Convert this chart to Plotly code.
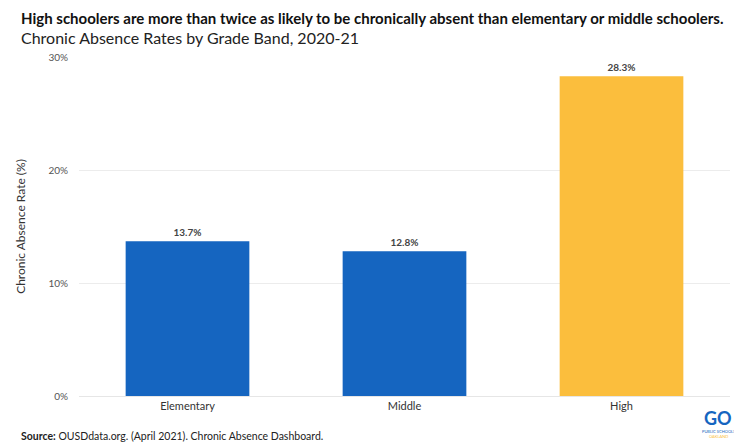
import plotly.graph_objects as go

categories = ["Elementary", "Middle", "High"]
rates = [13.7, 12.8, 28.3]
labels = ["<b>13.7%</b>", "<b>12.8%</b>", "<b>28.3%</b>"]
colors = ["#1565C0", "#1565C0", "#FBBE3D"]
tick_vals = [0, 10, 20, 30]
tick_text = ["0%", "10%", "20%", "30%"]

FONT = "Lato"
# page body has an 8px margin; compensate
OFF = 8
W, H = 742 - OFF, 446 - OFF
L, T, R = 76 - OFF, 57 - OFF, 12
B = H - (396 - OFF)
PW, PH = W - L - R, H - T - B


def px(x):
    return (x - OFF - L) / PW


def py(y):
    return 1 - (y - OFF - T) / PH


fig = go.Figure()
fig.add_trace(go.Bar(
    x=categories, y=rates, marker=dict(color=colors, line=dict(width=0)),
    text=labels, textposition="outside",
    textfont=dict(family=FONT, size=10, color="#444444"),
    cliponaxis=False, hoverinfo="skip",
))

fig.update_layout(
    width=W, height=H,
    margin=dict(l=L, r=R, t=T, b=B),
    paper_bgcolor="white", plot_bgcolor="white",
    bargap=0.43, showlegend=False,
    font=dict(family=FONT, color="#444444"),
    xaxis=dict(
        showgrid=False, showline=True, linecolor="#e6e6e6", linewidth=1,
        ticks="", tickfont=dict(family=FONT, size=11, color="#333333"),
    ),
    yaxis=dict(
        range=[0, 30], tickvals=tick_vals, ticktext=tick_text,
        showgrid=True, gridcolor="#ececec", gridwidth=1, zeroline=False,
        tickfont=dict(family=FONT, size=10, color="#555555"), ticks="",
        ticklabelstandoff=10,
        title=dict(text="Chronic Absence Rate (%)", font=dict(family=FONT, size=12, color="#333333"), standoff=20),
    ),
    annotations=[
        dict(text="<b>High schoolers are more than twice as likely to be chronically absent than elementary or middle schoolers.</b>",
             xref="paper", yref="paper", x=px(16), y=py(18), xanchor="left", yanchor="middle",
             showarrow=False, font=dict(family=FONT, size=15, color="#111111")),
        dict(text="Chronic Absence Rates by Grade Band, 2020-21",
             xref="paper", yref="paper", x=px(16), y=py(38), xanchor="left", yanchor="middle",
             showarrow=False, font=dict(family=FONT, size=16, color="#222222")),
        dict(text="<b>Source:</b> OUSDdata.org. (April 2021). Chronic Absence Dashboard.",
             xref="paper", yref="paper", x=px(16), y=py(436), xanchor="left", yanchor="middle",
             showarrow=False, font=dict(family=FONT, size=10.5, color="#222222")),
        dict(text="<b>GO</b>",
             xref="paper", yref="paper", x=px(718), y=py(418), xanchor="center", yanchor="middle",
             showarrow=False, font=dict(family=FONT, size=18, color="#1565C0")),
        dict(text="PUBLIC SCHOOLS<br><span style='color:#FBBE3D'>OAKLAND</span>",
             xref="paper", yref="paper", x=px(718), y=py(434), xanchor="center", yanchor="middle",
             showarrow=False, font=dict(family=FONT, size=4, color="#1565C0")),
    ],
)

fig.write_html("out.html")
